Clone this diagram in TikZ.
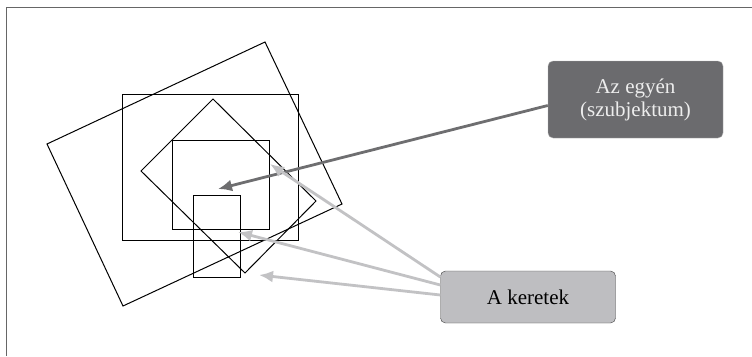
\documentclass[tikz,border=0pt]{standalone}
\usepackage{fontspec}
\setmainfont{Liberation Serif}
\usepackage{xcolor}
\usetikzlibrary{arrows.meta}

\definecolor{boxdark}{HTML}{6B6B6E}
\definecolor{boxlight}{HTML}{BEBEC1}
\definecolor{arrowdark}{HTML}{6E6E70}
\definecolor{arrowlight}{HTML}{C2C2C4}

\tikzset{
  frame/.style={line width=1pt,black},
  labelbox/.style={rounded corners=5pt,minimum width=175pt,align=center,
                   font=\fontsize{21}{23}\selectfont,inner sep=0pt},
  pointer/.style={line width=2.8pt,-{Latex[length=14pt,width=12pt]}}
}

\begin{document}
\begin{tikzpicture}[x=1pt,y=-1pt]
                    \useasboundingbox (0,0) rectangle (752,356);
                    \draw[gray!80!black,line width=0.8pt] (6,356) -- (6,7) -- (752,7);

                    % the frames
                    \draw[frame] (265,42) -- (342,204) -- (123,306) -- (47,144) -- cycle;
                    \draw[frame] (122,94) rectangle (298,240);
                    \draw[frame] (213,99) -- (316,201) -- (245,273) -- (141,171) -- cycle;
                    \draw[frame] (172,140) rectangle (269,229);
                    \draw[frame] (193,195) rectangle (240,277);

                    % the boxes
                    \node[labelbox,fill=boxdark,draw=gray!60,text=white!93!black,minimum height=77pt] (egyen) at (635.5,99.5) {Az egyén\\(szubjektum)};
                    \node[labelbox,fill=boxlight,draw=gray!50!black,text=black,minimum height=52pt] (keretek) at (528,297) {A keretek};

                    \coordinate (center) at (218,189);
                    \coordinate (inner) at (270,164);
                    \coordinate (outer) at (238,232);
                    \coordinate (small) at (259,275);

                    \draw[pointer,arrowdark] ([yshift=-6pt]egyen.west) -- (center);
                    \draw[pointer,arrowlight] ([yshift=20pt]keretek.west) -- (inner);
                    \draw[pointer,arrowlight] ([yshift=12pt]keretek.west) -- (outer);
                    \draw[pointer,arrowlight] ([yshift=2pt]keretek.west) -- (small);
                \end{tikzpicture}
\end{document}
